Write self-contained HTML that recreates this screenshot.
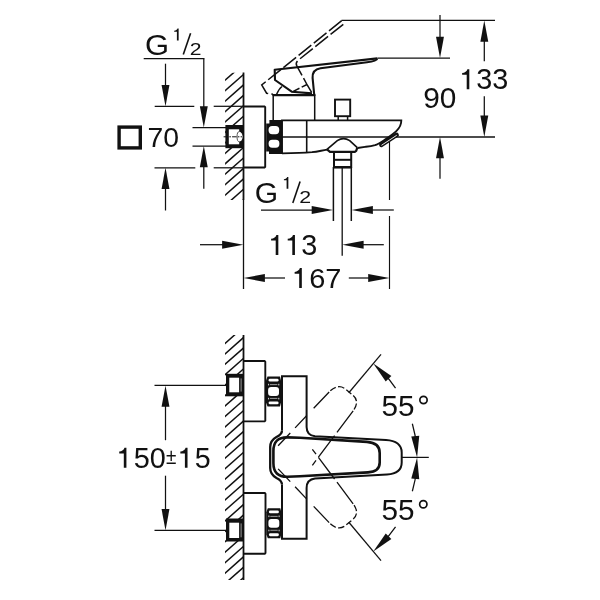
<!DOCTYPE html>
<html><head><meta charset="utf-8"><title>Drawing</title>
<style>
html,body{margin:0;padding:0;background:#fff;}
body{width:600px;height:600px;overflow:hidden;}
svg{display:block;filter:grayscale(1);}
text{font-family:"Liberation Sans",sans-serif;fill:#111;stroke:none;}
</style></head><body>
<svg width="600" height="600" viewBox="0 0 600 600">
<rect width="600" height="600" fill="#fff"/>
<g fill="none" stroke="#111" stroke-linecap="butt" stroke-linejoin="miter">

<!-- top view: wall -->
<clipPath id="h1"><rect x="225.10" y="72.70" width="18.70" height="127.30"/></clipPath><g clip-path="url(#h1)"><line x1="223.40" y1="81.77" x2="243.50" y2="64.00" stroke-width="1.50" /><line x1="223.40" y1="92.21" x2="243.50" y2="74.44" stroke-width="1.50" /><line x1="223.40" y1="102.65" x2="243.50" y2="84.88" stroke-width="1.50" /><line x1="223.40" y1="113.09" x2="243.50" y2="95.32" stroke-width="1.50" /><line x1="223.40" y1="123.53" x2="243.50" y2="105.76" stroke-width="1.50" /><line x1="223.40" y1="133.97" x2="243.50" y2="116.20" stroke-width="1.50" /><line x1="223.40" y1="144.41" x2="243.50" y2="126.64" stroke-width="1.50" /><line x1="223.40" y1="154.85" x2="243.50" y2="137.08" stroke-width="1.50" /><line x1="223.40" y1="165.29" x2="243.50" y2="147.52" stroke-width="1.50" /><line x1="223.40" y1="175.73" x2="243.50" y2="157.96" stroke-width="1.50" /><line x1="223.40" y1="186.17" x2="243.50" y2="168.40" stroke-width="1.50" /><line x1="223.40" y1="196.61" x2="243.50" y2="178.84" stroke-width="1.50" /><line x1="223.40" y1="207.05" x2="243.50" y2="189.28" stroke-width="1.50" /><line x1="223.40" y1="217.49" x2="243.50" y2="199.72" stroke-width="1.50" /></g>
<line x1="243.50" y1="72.50" x2="243.50" y2="200.00" stroke-width="1.80" />
<line x1="243.50" y1="200.00" x2="243.50" y2="289.00" stroke-width="1.30" />
<!-- top-left dims -->
<line x1="143.70" y1="58.50" x2="204.40" y2="58.50" stroke-width="1.25" />
<line x1="203.80" y1="58.50" x2="203.80" y2="110.00" stroke-width="1.25" />
<line x1="165.50" y1="63.70" x2="165.50" y2="90.00" stroke-width="1.25" />
<line x1="154.70" y1="106.30" x2="194.30" y2="106.30" stroke-width="1.25" />
<line x1="213.70" y1="106.30" x2="243.50" y2="106.30" stroke-width="1.25" />
<line x1="192.50" y1="127.50" x2="226.00" y2="127.50" stroke-width="1.25" />
<line x1="192.50" y1="146.00" x2="226.00" y2="146.00" stroke-width="1.25" />
<line x1="154.50" y1="167.80" x2="195.30" y2="167.80" stroke-width="1.25" />
<line x1="213.70" y1="167.80" x2="243.50" y2="167.80" stroke-width="1.25" />
<line x1="165.50" y1="185.00" x2="165.50" y2="210.50" stroke-width="1.25" />
<line x1="203.80" y1="164.00" x2="203.80" y2="188.80" stroke-width="1.25" />
<rect x="119.1" y="127.1" width="21.2" height="20.8" stroke-width="3.4"/>
<!-- escutcheon / stub / nut -->
<path d="M243.5 106.5H264.5L265.2 107.2V166.8L264.5 167.5H243.5" stroke-width="1.9"/>
<rect x="225.4" y="125" width="18.1" height="23.2" fill="#111" stroke="none"/><rect x="228.8" y="129.3" width="10.4" height="15" fill="#fff" stroke="none"/>
<path d="M239 131.8A3.6 4.9 0 0 1 239 141.6Z" fill="#fff" stroke="none"/>
<path d="M239.3 131.6A2.2 5 0 0 0 239.3 141.8" stroke-width="0.9" stroke="#444"/>
<line x1="223.60" y1="136.80" x2="242.00" y2="136.80" stroke-width="1.00" stroke-dasharray="4.5 1.2 1.6 1.2"/>
<path d="M266.2 123.5H269.4V120H282.3V154H269V151.6H266.2Z" fill="#111" stroke="none"/>
<rect x="268.6" y="126" width="10.6" height="8.2" rx="3.6" fill="#fff" stroke="none"/>
<rect x="268.6" y="139.8" width="10.8" height="7.9" rx="3.6" fill="#fff" stroke="none"/>
<!-- body -->
<line x1="282.00" y1="137.00" x2="495.00" y2="137.00" stroke-width="1.30" />
<path d="M282 153.5V120.4H401.3C401.4 124 399.5 128 396.3 131.2C393 134.5 388.5 137.3 385 139.6C381 142.2 378 144.2 375 145.2C371 146.4 368 146.6 365 146.9L357.5 148" stroke-width="1.9"/>
<path d="M282 153.4C292 153.2 304 152.8 312 152.2C318 151.6 322 150.4 327 149.7" stroke-width="1.8"/>
<line x1="306.70" y1="120.00" x2="306.70" y2="152.50" stroke-width="1.60" />
<!-- aerator -->
<line x1="381.40" y1="144.90" x2="396.60" y2="134.90" stroke-width="4.60" stroke-linecap="round"/>
<line x1="381.80" y1="145.10" x2="396.40" y2="135.50" stroke-width="0.90" stroke-linecap="round" stroke="#fff"/>
<!-- dome, nut, hose -->
<path d="M327 149.3L337.3 140.6Q343.5 136.6 349.7 140.6L357.3 147.6" stroke-width="1.7"/>
<path d="M327 149.3L330 151.8H354.8L356.2 150.8L357.3 147.6" stroke-width="2.2" stroke-linejoin="round"/>
<rect x="334" y="152" width="17.2" height="15.1" stroke-width="2"/>
<line x1="334.00" y1="159.80" x2="351.20" y2="159.80" stroke-width="2.00" />
<line x1="334.00" y1="167.30" x2="351.20" y2="167.30" stroke-width="2.40" />
<line x1="333.40" y1="167.00" x2="333.40" y2="221.00" stroke-width="1.50" />
<line x1="351.30" y1="167.00" x2="351.30" y2="221.00" stroke-width="1.50" />
<line x1="342.20" y1="167.00" x2="342.20" y2="255.70" stroke-width="1.30" />
<!-- cartridge housing -->
<path d="M273.2 120V95.5H314.7V120" stroke-width="1.5"/>
<line x1="272.50" y1="95.00" x2="315.40" y2="95.00" stroke-width="2.20" />
<!-- diverter knob -->
<rect x="335" y="99.6" width="15.2" height="16.6" stroke-width="1.9"/>
<path d="M338.2 116V120M347.6 116V120" stroke-width="1.5"/>
<!-- handle solid -->
<path d="M377.3 58.4L274.7 69.8L275 80L291.7 91.7L312 93.4" stroke-width="2.1" stroke-linejoin="round"/>
<path d="M314.2 94.5L312.6 78C312.3 72.5 315 69 320.5 68.2L367 62.3C372 61.7 376.8 60.4 377.4 58.5" stroke-width="2.1"/>
<path d="M276.6 94.3C278.0 91 279.5 88.3 282 86.5" stroke-width="1.5"/>
<!-- handle dashed -->
<path d="M341.7 20.7L261.7 85L266.6 93.2L273 94.2" stroke-width="1.5" stroke-dasharray="16.3 3.2"/>
<path d="M343.3 24.3L298.5 60C296.3 61.8 295.5 63.3 296.8 65.8L307.5 85.5L312.3 93.5" stroke-width="1.5" stroke-dasharray="16.3 3.2"/>
<path d="M292.3 91.8L307 84.5" stroke-width="1.5" stroke-dasharray="8 2.5"/>
<!-- right dims -->
<line x1="341.50" y1="20.40" x2="495.00" y2="20.40" stroke-width="1.25" />
<line x1="377.50" y1="58.10" x2="450.00" y2="58.10" stroke-width="1.25" />
<line x1="440.00" y1="15.00" x2="440.00" y2="40.00" stroke-width="1.25" />
<line x1="440.00" y1="155.00" x2="440.00" y2="178.70" stroke-width="1.25" />
<line x1="484.30" y1="38.00" x2="484.30" y2="61.30" stroke-width="1.25" />
<line x1="484.30" y1="96.30" x2="484.30" y2="118.00" stroke-width="1.25" />
<!-- bottom dims of top view -->
<line x1="261.00" y1="210.00" x2="315.00" y2="210.00" stroke-width="1.25" />
<line x1="369.00" y1="210.00" x2="393.80" y2="210.00" stroke-width="1.25" />
<line x1="200.00" y1="244.70" x2="225.00" y2="244.70" stroke-width="1.25" />
<line x1="360.00" y1="244.70" x2="383.80" y2="244.70" stroke-width="1.25" />
<line x1="262.00" y1="278.00" x2="285.00" y2="278.00" stroke-width="1.25" />
<line x1="348.80" y1="278.00" x2="371.00" y2="278.00" stroke-width="1.25" />
<line x1="389.50" y1="142.00" x2="389.50" y2="200.00" stroke-width="1.15" />
<line x1="389.50" y1="216.00" x2="389.50" y2="289.00" stroke-width="1.15" />
<!-- bottom view: wall -->
<clipPath id="h2"><rect x="225.00" y="335.00" width="18.70" height="245.00"/></clipPath><g clip-path="url(#h2)"><line x1="223.30" y1="344.97" x2="243.40" y2="327.20" stroke-width="1.50" /><line x1="223.30" y1="355.41" x2="243.40" y2="337.64" stroke-width="1.50" /><line x1="223.30" y1="365.85" x2="243.40" y2="348.08" stroke-width="1.50" /><line x1="223.30" y1="376.29" x2="243.40" y2="358.52" stroke-width="1.50" /><line x1="223.30" y1="386.73" x2="243.40" y2="368.96" stroke-width="1.50" /><line x1="223.30" y1="397.17" x2="243.40" y2="379.40" stroke-width="1.50" /><line x1="223.30" y1="407.61" x2="243.40" y2="389.84" stroke-width="1.50" /><line x1="223.30" y1="418.05" x2="243.40" y2="400.28" stroke-width="1.50" /><line x1="223.30" y1="428.49" x2="243.40" y2="410.72" stroke-width="1.50" /><line x1="223.30" y1="438.93" x2="243.40" y2="421.16" stroke-width="1.50" /><line x1="223.30" y1="449.37" x2="243.40" y2="431.60" stroke-width="1.50" /><line x1="223.30" y1="459.81" x2="243.40" y2="442.04" stroke-width="1.50" /><line x1="223.30" y1="470.25" x2="243.40" y2="452.48" stroke-width="1.50" /><line x1="223.30" y1="480.69" x2="243.40" y2="462.92" stroke-width="1.50" /><line x1="223.30" y1="491.13" x2="243.40" y2="473.36" stroke-width="1.50" /><line x1="223.30" y1="501.57" x2="243.40" y2="483.80" stroke-width="1.50" /><line x1="223.30" y1="512.01" x2="243.40" y2="494.24" stroke-width="1.50" /><line x1="223.30" y1="522.45" x2="243.40" y2="504.68" stroke-width="1.50" /><line x1="223.30" y1="532.89" x2="243.40" y2="515.12" stroke-width="1.50" /><line x1="223.30" y1="543.33" x2="243.40" y2="525.56" stroke-width="1.50" /><line x1="223.30" y1="553.77" x2="243.40" y2="536.00" stroke-width="1.50" /><line x1="223.30" y1="564.21" x2="243.40" y2="546.44" stroke-width="1.50" /><line x1="223.30" y1="574.65" x2="243.40" y2="556.88" stroke-width="1.50" /><line x1="223.30" y1="585.09" x2="243.40" y2="567.32" stroke-width="1.50" /><line x1="223.30" y1="595.53" x2="243.40" y2="577.76" stroke-width="1.50" /></g>
<line x1="243.50" y1="335.00" x2="243.50" y2="580.00" stroke-width="1.80" />
<path d="M243.5 361H264.6L265.3 361.8V420.6L264.6 421.4H243.5" stroke-width="1.9"/>
<path d="M243.5 493H264.8L265.5 493.8V553L264.8 553.8H243.5" stroke-width="1.9"/>
<rect x="226" y="373.8" width="17.5" height="22.5" fill="#111" stroke="none"/>
<rect x="229.3" y="377.7" width="9.8" height="14.6" fill="#fff" stroke="none"/>
<rect x="240.6" y="378.4" width="1" height="13.2" fill="#999" stroke="none"/>
<rect x="226" y="518.5" width="17.5" height="23.0" fill="#111" stroke="none"/>
<rect x="229.3" y="522.7" width="9.8" height="15.3" fill="#fff" stroke="none"/>
<rect x="240.6" y="523.4" width="1" height="13.9" fill="#999" stroke="none"/>
<path d="M267.5 376.6H280.0L281.0 380.6V402.4L280.0 406.4H267.5L266.0 402.4V380.6Z" fill="#111" stroke="none"/>
<rect x="268.6" y="378.7" width="10" height="2.9" rx="1.4" fill="#fff" stroke="none"/>
<rect x="270.0" y="384.2" width="7.4" height="0.9" fill="#aaa" stroke="none"/>
<rect x="268.1" y="387.1" width="10.9" height="8.8" rx="3" fill="#fff" stroke="none"/>
<rect x="270.0" y="397.9" width="7.4" height="0.9" fill="#aaa" stroke="none"/>
<rect x="268.6" y="401.4" width="10" height="2.9" rx="1.4" fill="#fff" stroke="none"/>
<rect x="268.1" y="383.8" width="1" height="1.6" fill="#ddd" stroke="none"/>
<rect x="278.3" y="383.8" width="1" height="1.6" fill="#ddd" stroke="none"/>
<rect x="268.1" y="397.8" width="1" height="1.6" fill="#ddd" stroke="none"/>
<rect x="278.3" y="397.8" width="1" height="1.6" fill="#ddd" stroke="none"/>
<path d="M267.8 508.3H280.3L281.3 512.3V534.3L280.3 538.3H267.8L266.3 534.3V512.3Z" fill="#111" stroke="none"/>
<rect x="268.9" y="510.4" width="10" height="2.9" rx="1.4" fill="#fff" stroke="none"/>
<rect x="270.3" y="515.9" width="7.4" height="0.9" fill="#aaa" stroke="none"/>
<rect x="268.4" y="518.9" width="10.9" height="8.8" rx="3" fill="#fff" stroke="none"/>
<rect x="270.3" y="529.8" width="7.4" height="0.9" fill="#aaa" stroke="none"/>
<rect x="268.9" y="533.3" width="10" height="2.9" rx="1.4" fill="#fff" stroke="none"/>
<rect x="268.4" y="515.5" width="1" height="1.6" fill="#ddd" stroke="none"/>
<rect x="278.6" y="515.5" width="1" height="1.6" fill="#ddd" stroke="none"/>
<rect x="268.4" y="529.7" width="1" height="1.6" fill="#ddd" stroke="none"/>
<rect x="278.6" y="529.7" width="1" height="1.6" fill="#ddd" stroke="none"/>
<!-- body bottom view -->
<path d="M282 430.5V376.2H306.6V427C306.6 432.5 309.5 435.6 315 436.3L386 439.9C396 440.4 401.7 445 401.7 452.5V462.5C401.7 470 396 474 387 474.5L315 478.6C309.5 479.3 306.6 482 306.6 488V538.8H282V484.5" stroke-width="2"/>
<path d="M282 430.5C282 434 279.5 435.5 276.5 437C272 439.5 270.2 442.5 270.2 447V468C270.2 472.5 272 475.5 276.5 478C279.5 479.5 282 481 282 484.5" stroke-width="2.3"/>
<path d="M273.4 451C273.4 441.5 278 437.3 287.5 437.4L300 437.8L367 441.9C375.5 442.5 379.7 446.5 379.7 453V462.5C379.7 468.5 375.5 472 368 472.4L300 476.2L287.5 476.8C278 476.9 273.4 472.5 273.4 463Z" stroke-width="2.6"/>
<!-- dashed handles -->
<g transform="rotate(-50 294.5 457.5)" stroke-width="1.3">
<path d="M367 441.9L293 437.4" stroke-dasharray="22.5 10 17 7 40"/>
<path d="M367 441.9C375.5 442.5 379.7 446.5 379.7 453V462.5C379.7 468.5 375.5 472 368 472.4" stroke-dasharray="6.5 2.5" stroke-dashoffset="-1.5"/>
<path d="M368 472.4L300 476.2" stroke-dasharray="27 4"/>
</g>
<g transform="matrix(1 0 0 -1 0 914.6) rotate(-50 294.5 457.5)" stroke-width="1.3">
<path d="M367 441.9L293 437.4" stroke-dasharray="22.5 10 17 7 40"/>
<path d="M367 441.9C375.5 442.5 379.7 446.5 379.7 453V462.5C379.7 468.5 375.5 472 368 472.4" stroke-dasharray="6.5 2.5" stroke-dashoffset="-1.5"/>
<path d="M368 472.4L300 476.2" stroke-dasharray="27 4"/>
</g>
<line x1="348.82" y1="392.77" x2="381.02" y2="354.39" stroke-width="1.25" />
<line x1="348.82" y1="522.23" x2="381.02" y2="560.61" stroke-width="1.25" />
<line x1="402.00" y1="457.40" x2="428.80" y2="457.40" stroke-width="1.25" />
<path d="M381.19 370.81A122.6 122.6 0 0 1 395.54 388.06" stroke-width="1.25"/>
<path d="M412.35 423.71A122.6 122.6 0 0 1 416.63 446.81" stroke-width="1.25"/>
<path d="M381.19 544.19A122.6 122.6 0 0 0 395.54 526.94" stroke-width="1.25"/>
<path d="M412.35 491.29A122.6 122.6 0 0 0 416.63 468.19" stroke-width="1.25"/>
<!-- 150 dim -->
<line x1="154.50" y1="385.40" x2="226.00" y2="385.40" stroke-width="1.25" />
<line x1="154.50" y1="530.40" x2="226.00" y2="530.40" stroke-width="1.25" />
<line x1="165.50" y1="404.00" x2="165.50" y2="440.20" stroke-width="1.25" />
<line x1="165.50" y1="475.70" x2="165.50" y2="510.00" stroke-width="1.25" />
</g>
<!-- arrowheads -->
<g fill="#111" stroke="none">
<polygon points="203.80,127.50 199.85,106.20 207.75,106.20"/>
<polygon points="165.50,106.30 161.55,85.00 169.45,85.00"/>
<polygon points="165.50,167.80 169.45,189.10 161.55,189.10"/>
<polygon points="203.80,146.00 207.75,167.30 199.85,167.30"/>
<polygon points="440.00,58.10 436.05,36.80 443.95,36.80"/>
<polygon points="440.00,136.90 443.95,158.20 436.05,158.20"/>
<polygon points="484.30,20.40 488.25,41.70 480.35,41.70"/>
<polygon points="484.30,136.90 480.35,115.60 488.25,115.60"/>
<polygon points="333.00,210.00 311.70,213.95 311.70,206.05"/>
<polygon points="351.60,210.00 372.90,206.05 372.90,213.95"/>
<polygon points="243.40,244.70 222.10,248.65 222.10,240.75"/>
<polygon points="342.30,244.70 363.60,240.75 363.60,248.65"/>
<polygon points="243.60,278.00 264.90,274.05 264.90,281.95"/>
<polygon points="389.50,278.00 368.20,281.95 368.20,274.05"/>
<polygon points="165.50,385.40 169.45,406.70 161.55,406.70"/>
<polygon points="165.50,530.40 161.55,509.10 169.45,509.10"/>
<polygon points="417.10,457.50 411.28,436.42 419.25,435.74"/>
<polygon points="417.10,457.50 419.25,479.26 411.28,478.58"/>
<polygon points="373.31,363.58 391.36,375.93 385.71,381.59"/>
<polygon points="373.31,551.42 385.71,533.41 391.36,539.07"/>
</g>
<!-- text -->
<text transform="translate(145.05 54.51) scale(1.068 1)" font-size="28.98" >G</text>
<path d="M176.90 40.40L178.65 40.40L178.65 28.50L177.49 28.50C177.26 29.71 175.74 30.64 174.18 30.75L174.18 31.85L176.90 31.85Z" fill="#111" stroke="none" />
<text transform="translate(189.75 54.90) scale(1.280 1)" font-size="16.49" >2</text>
<line x1="183.3" y1="54.6" x2="190.6" y2="33.2" stroke="#111" stroke-width="1.6"/>
<text transform="translate(254.70 203.31) scale(1.032 1)" font-size="29.12" >G</text>
<path d="M286.60 188.70L288.35 188.70L288.35 176.90L287.20 176.90C286.98 178.10 285.45 179.02 283.91 179.13L283.91 180.22L286.60 180.22Z" fill="#111" stroke="none" />
<text transform="translate(299.23 203.30) scale(1.282 1)" font-size="16.63" >2</text>
<line x1="292.8" y1="202.9" x2="300.1" y2="181.6" stroke="#111" stroke-width="1.6"/>
<text transform="translate(147.41 146.92) scale(1.018 1)" font-size="27.84" >70</text>
<path d="M275.70 255.00L278.33 255.00L278.33 234.90L276.38 234.90C275.99 236.95 273.75 238.51 271.11 238.71L271.11 240.56L275.70 240.56Z" fill="#111" stroke="none" />
<path d="M292.30 255.00L294.93 255.00L294.93 234.90L292.98 234.90C292.59 236.95 290.35 238.51 287.71 238.71L287.71 240.56L292.30 240.56Z" fill="#111" stroke="none" />
<text transform="translate(301.32 254.81) scale(1.005 1)" font-size="28.69" >3</text>
<path d="M299.20 288.10L301.82 288.10L301.82 268.10L299.88 268.10C299.49 270.14 297.26 271.69 294.64 271.89L294.64 273.73L299.20 273.73Z" fill="#111" stroke="none" />
<text transform="translate(309.25 287.91) scale(1.016 1)" font-size="28.55" >67</text>
<text transform="translate(423.28 107.81) scale(1.040 1)" font-size="28.69" >90</text>
<path d="M466.70 89.20L469.32 89.20L469.32 69.20L467.38 69.20C466.99 71.24 464.76 72.79 462.14 72.99L462.14 74.83L466.70 74.83Z" fill="#111" stroke="none" />
<text transform="translate(476.32 89.11) scale(1.000 1)" font-size="28.83" >33</text>
<path d="M123.80 467.80L126.42 467.80L126.42 447.80L124.48 447.80C124.09 449.84 121.86 451.39 119.24 451.59L119.24 453.43L123.80 453.43Z" fill="#111" stroke="none" />
<text transform="translate(133.75 467.71) scale(1.006 1)" font-size="28.69" >50</text>
<path d="M184.90 467.80L187.52 467.80L187.52 447.80L185.58 447.80C185.19 449.84 182.96 451.39 180.34 451.59L180.34 453.43L184.90 453.43Z" fill="#111" stroke="none" />
<text transform="translate(194.65 467.71) scale(0.994 1)" font-size="28.82" >5</text>
<text transform="translate(166.08 464.30) scale(0.889 1)" font-size="21.34" >±</text>
<text transform="translate(381.51 415.50) scale(1.006 1)" font-size="29.53" >55</text>
<text transform="translate(381.51 520.00) scale(1.006 1)" font-size="29.53" >55</text>
<circle cx="423.5" cy="400" r="3.65" fill="none" stroke="#111" stroke-width="1.7"/>
<circle cx="423.3" cy="504.3" r="3.65" fill="none" stroke="#111" stroke-width="1.7"/>
</svg></body></html>
